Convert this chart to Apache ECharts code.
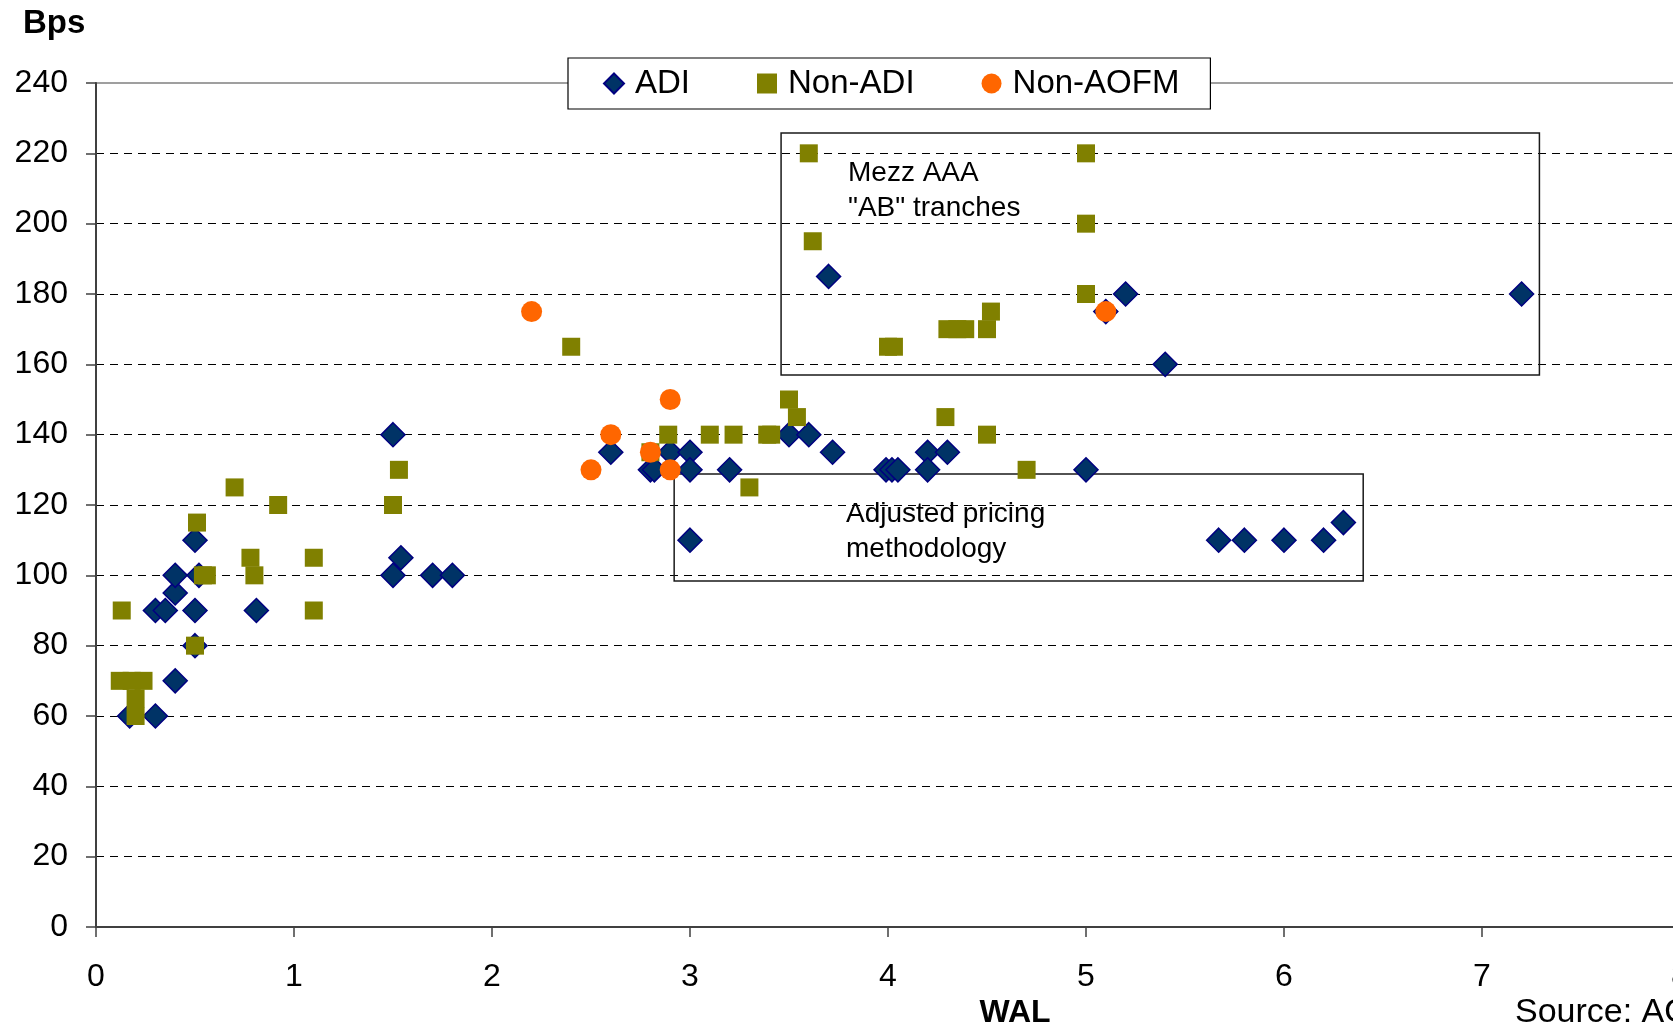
<!DOCTYPE html>
<html>
<head>
<meta charset="utf-8">
<script src="https://cdn.jsdelivr.net/npm/echarts@6/dist/echarts.min.js"></script>
<style>
html,body{margin:0;padding:0;background:#fff;}
#chart{width:1673px;height:1030px;}
</style>
</head>
<body>
<div id="chart"></div>
<script>
// ---- data ----
var seriesNames = ['ADI', 'Non-ADI', 'Non-AOFM'];
var adiWal = [0.17,0.30,0.30,0.35,0.40,0.40,0.40,0.50,0.52,0.50,0.50,0.81,1.50,1.50,1.54,1.70,1.80,2.60,2.80,2.82,2.90,3.00,3.00,3.00,3.20,3.50,3.60,3.72,3.70,3.99,4.02,4.05,4.20,4.20,4.30,5.00,5.10,5.20,5.40,5.67,5.80,6.00,6.20,6.30,7.20];
var adiBps = [60,60,90,90,70,95,100,110,100,90,80,90,140,100,105,100,100,135,130,130,135,135,130,110,130,140,140,135,185,130,130,130,135,130,135,130,175,180,160,110,110,110,110,115,180];
var nonAdiWal = [0.13,0.12,0.18,0.24,0.20,0.20,0.50,0.51,0.54,0.56,0.70,0.78,0.80,0.92,1.10,1.10,1.50,1.53,2.40,2.80,2.89,3.10,3.22,3.30,3.39,3.41,3.50,3.54,3.60,3.62,4.00,4.03,4.29,4.30,4.35,4.39,4.50,4.52,4.50,4.70,5.00,5.00,5.00];
var nonAdiBps = [90,70,70,70,65,60,80,115,100,100,125,105,100,120,105,90,120,130,165,135,140,140,140,125,140,140,150,145,220,195,165,165,145,170,170,170,170,175,140,130,220,200,180];
var nonAofmWal = [2.20,2.50,2.60,2.80,2.90,2.90,5.10];
var nonAofmBps = [175,130,140,135,150,130,175];
var yTicks = [0,20,40,60,80,100,120,140,160,180,200,220,240];
var xTicks = [0,1,2,3,4,5,6,7,8];
// annotation boxes [xFrom, yFrom, xTo, yTo] in data units
var mezzBox = [3.46, 225.8, 7.29, 157];
var adjBox = [2.92, 128.8, 6.40, 98.4];
var mezzText = ['Mezz AAA', '"AB" tranches'];
var adjText = ['Adjusted pricing', 'methodology'];

function pairs(xs, ys){ return xs.map(function(x,i){ return [x, ys[i]]; }); }

var FONT = "'Liberation Sans', Arial, sans-serif";
var chart = echarts.init(document.getElementById('chart'), null, {renderer:'canvas'});
var option = {
  animation: false,
  backgroundColor: '#fff',
  textStyle: {fontFamily: FONT},
  grid: {left: 96, top: 83, width: 1584, height: 844, containLabel: false, outerBoundsMode: 'none',
         show: true, borderColor: '#808080', borderWidth: 1.5, backgroundColor: 'transparent'},
  legend: {
    left: 568, top: 58,
    data: seriesNames,
    backgroundColor: '#fff',
    borderColor: '#000', borderWidth: 1.2,
    padding: [9, 31, 9, 35],
    itemGap: 67,
    itemWidth: 20, itemHeight: 20,
    textStyle: {fontFamily: FONT, fontSize: 33, color: '#000', padding: [0, 0, 0, 6]}
  },
  xAxis: {
    type: 'value', min: xTicks[0], max: xTicks[xTicks.length-1], interval: 1,
    axisLine: {show: true, lineStyle: {color: '#404040', width: 2}},
    axisTick: {show: true, inside: false, length: 10, lineStyle: {color: '#404040', width: 1.5}},
    axisLabel: {fontFamily: FONT, fontSize: 32, color: '#000', margin: 34},
    splitLine: {show: false}
  },
  yAxis: {
    type: 'value', min: yTicks[0], max: yTicks[yTicks.length-1], interval: 20,
    axisLine: {show: true, lineStyle: {color: '#404040', width: 2}},
    axisTick: {show: true, inside: false, length: 10, lineStyle: {color: '#404040', width: 1.5}},
    axisLabel: {fontFamily: FONT, fontSize: 32, color: '#000', margin: 28},
    splitLine: {show: true, showMinLine: false, showMaxLine: false, lineStyle: {color: '#000', width: 1, type: [8, 6]}}
  },
  graphic: [
    {type:'text', left: 23, top: 7, style:{text:'Bps', font:'bold 33px '+FONT, fill:'#000'}},
    {type:'text', x: 1015, y: 1013, style:{text:'WAL', font:'bold 32px '+FONT, fill:'#000', align:'center', verticalAlign:'middle'}},
    {type:'text', x: 1515, y: 1013, style:{text:'Source: AOFM', font:'34px '+FONT, fill:'#000', align:'left', verticalAlign:'middle'}},
    {type:'text', x: 848, y: 173, style:{text:mezzText[0], font:'28px '+FONT, fill:'#000', verticalAlign:'middle'}},
    {type:'text', x: 848, y: 208, style:{text:mezzText[1], font:'28px '+FONT, fill:'#000', verticalAlign:'middle'}},
    {type:'text', x: 846, y: 514, style:{text:adjText[0], font:'28px '+FONT, fill:'#000', verticalAlign:'middle'}},
    {type:'text', x: 846, y: 549, style:{text:adjText[1], font:'28px '+FONT, fill:'#000', verticalAlign:'middle'}}
  ],
  series: [
    {
      name: seriesNames[0], type: 'scatter', symbol: 'diamond', symbolSize: 24,
      data: pairs(adiWal, adiBps),
      itemStyle: {color: '#003366', borderColor: '#000080', borderWidth: 1.5, opacity: 1},
      markArea: {
        silent: true,
        itemStyle: {color: 'rgba(0,0,0,0)', borderColor: '#1a1a1a', borderWidth: 1.5},
        label: {show: false},
        data: [
          [{coord: [mezzBox[0], mezzBox[1]]}, {coord: [mezzBox[2], mezzBox[3]]}],
          [{coord: [adjBox[0], adjBox[1]]}, {coord: [adjBox[2], adjBox[3]]}]
        ]
      }
    },
    {
      name: seriesNames[1], type: 'scatter', symbol: 'rect', symbolSize: 18,
      data: pairs(nonAdiWal, nonAdiBps),
      itemStyle: {color: '#808000', opacity: 1}
    },
    {
      name: seriesNames[2], type: 'scatter', symbol: 'circle', symbolSize: 21,
      data: pairs(nonAofmWal, nonAofmBps),
      itemStyle: {color: '#FF6600', opacity: 1}
    }
  ]
};
chart.setOption(option);
</script>
</body>
</html>
